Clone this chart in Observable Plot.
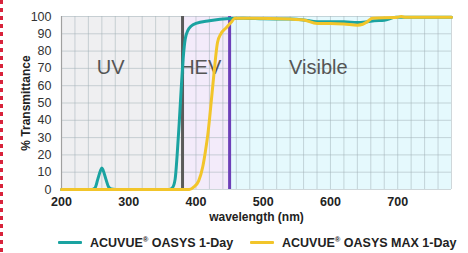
<!DOCTYPE html>
<html>
<head>
<meta charset="utf-8">
<script src="https://cdn.jsdelivr.net/npm/d3@7"></script>
<script src="https://cdn.jsdelivr.net/npm/@observablehq/plot@0.6"></script>
<style>
  html, body { margin: 0; padding: 0; background: #fff; }
  body { width: 468px; height: 253px; position: relative; overflow: hidden; font-family: "Liberation Sans", Arial, sans-serif; }
  #edge { position: absolute; left: 0; top: 0; width: 3px; height: 253px;
    background: repeating-linear-gradient(to bottom, #d8243c 0 4px, transparent 4px 8px); }
  #legend { position: absolute; left: 0; top: 234px; width: 468px; height: 19px; font-size: 12.5px; font-weight: bold; color: #222; }
  .item { position: absolute; top: 1px; display: flex; align-items: center; white-space: nowrap; }
  .sw { display: inline-block; width: 24px; height: 3px; margin-right: 8px; border-radius: 1px; }
  sup { font-size: 7.5px; vertical-align: 5px; }
</style>
</head>
<body>
<div id="edge"></div>
<div id="chart"></div>
<div id="legend"></div>
<script>
// Series: ACUVUE OASYS 1-Day (teal)
const tealNm = [200,245,250,254,258,260,262,266,270,274,280,360,365,369,372,375,378,381,384,388,393,400,420,450,470,500,540,560,580,600,620,640,655,665,680,697,720,780];
const tealT  = [0,0,1,6,11,12.5,11,6,1.5,0.3,0,0,1,6,20,38,58,76,87,92,94.5,96,97.5,98.8,99,98.7,98.5,98,97,97,97,96.5,97,97.5,97.8,99.5,99.5,99.5];
// Series: ACUVUE OASYS MAX 1-Day (yellow)
const yelNm = [200,390,397,404,410,414,418,422,427,432,437,445,452,458,480,540,560,580,600,620,640,648,655,662,700,705,712,780];
const yelT  = [0,0,1.5,5,13,22,33,48,68,85,90,93.5,96.5,99,99,98.5,98,96,96,95.7,95,95.5,97,99,99.5,100,99.5,99.5];

const seriesNames = ["ACUVUE® OASYS 1-Day", "ACUVUE® OASYS MAX 1-Day"];
const seriesColors = ["#1aa3a1", "#f2c52a"];

// Regions
const regionNames = ["UV", "HEV", "Visible"];
const regionStart = [200, 380, 450];
const regionEnd   = [380, 450, 780];
const regionFill  = ["#efeff1", "#f3ebfa", "#e5f9fd"];
const regionLabelX = [273, 407, 582];
const regionLabelY = 70.5;

const boundaryNm = [380, 450];
const boundaryColor = ["#5a5a5a", "#6d3fb8"];

const xTicks = [200, 300, 400, 500, 600, 700];
const yTicks = [0,10,20,30,40,50,60,70,80,90,100];
const xGrid = d3.range(200, 781, 20);
const yGrid = d3.range(0, 101, 10);

const teal = tealNm.map((x, i) => ({x, y: tealT[i]}));
const yel = yelNm.map((x, i) => ({x, y: yelT[i]}));
const regions = regionNames.map((n, i) => ({n, x1: regionStart[i], x2: regionEnd[i], fill: regionFill[i], lx: regionLabelX[i]}));
const bounds = boundaryNm.map((x, i) => ({x, c: boundaryColor[i]}));

const chart = Plot.plot({
  width: 468,
  height: 234,
  marginLeft: 61,
  marginRight: 17,
  marginTop: 16,
  marginBottom: 45,
  style: {fontFamily: "'Liberation Sans', Arial, sans-serif", background: "transparent"},
  x: {domain: [200, 780], ticks: xTicks, tickSize: 0, tickPadding: 8, label: "wavelength (nm)", labelAnchor: "center", labelArrow: "none", labelOffset: 31},
  y: {domain: [0, 100], ticks: yTicks, tickSize: 0, tickPadding: 10, label: "% Transmittance", labelAnchor: "center", labelArrow: "none", labelOffset: 40},
  marks: [
    Plot.rect(regions, {x1: "x1", x2: "x2", y1: 0, y2: 100, fill: d => d.fill}),
    Plot.ruleX(xGrid, {stroke: "#9fb0b6", strokeOpacity: 0.5, strokeWidth: 1}),
    Plot.ruleY(yGrid, {stroke: "#9fb0b6", strokeOpacity: 0.5, strokeWidth: 1}),
    Plot.ruleX([200], {stroke: "#a0a0a0", strokeWidth: 1.2}),
    Plot.text(regions, {x: "lx", y: regionLabelY, text: "n", fill: "#555", fontSize: 20}),
    Plot.ruleX(bounds, {x: "x", y1: 0, y2: 100, stroke: d => d.c, strokeWidth: 3}),
    Plot.line(teal, {x: "x", y: "y", stroke: seriesColors[0], strokeWidth: 3, curve: "monotone-x"}),
    Plot.line(yel, {x: "x", y: "y", stroke: seriesColors[1], strokeWidth: 3, curve: "monotone-x"}),
  ]
});
// style axes text
chart.querySelectorAll('g[aria-label="x-axis tick label"] text').forEach(t => { t.style.fontWeight = "bold"; t.style.fontSize = "12.5px"; t.style.fill = "#222"; });
chart.querySelectorAll('g[aria-label="y-axis tick label"] text').forEach(t => { t.style.fontSize = "12.5px"; t.style.fill = "#333"; });
chart.querySelectorAll('g[aria-label="x-axis label"] text, g[aria-label="y-axis label"] text').forEach(t => { t.style.fontWeight = "bold"; t.style.fontSize = "12px"; t.style.fill = "#222"; });
document.getElementById("chart").appendChild(chart);

// legend
const legendX = [58, 250];
const leg = document.getElementById("legend");
seriesNames.forEach((name, i) => {
  const item = document.createElement("div");
  item.className = "item";
  item.style.left = legendX[i] + "px";
  const sw = document.createElement("span");
  sw.className = "sw";
  sw.style.background = seriesColors[i];
  const lab = document.createElement("span");
  lab.innerHTML = name.replace("®", "<sup>®</sup>");
  item.appendChild(sw); item.appendChild(lab);
  leg.appendChild(item);
});
</script>
</body>
</html>
